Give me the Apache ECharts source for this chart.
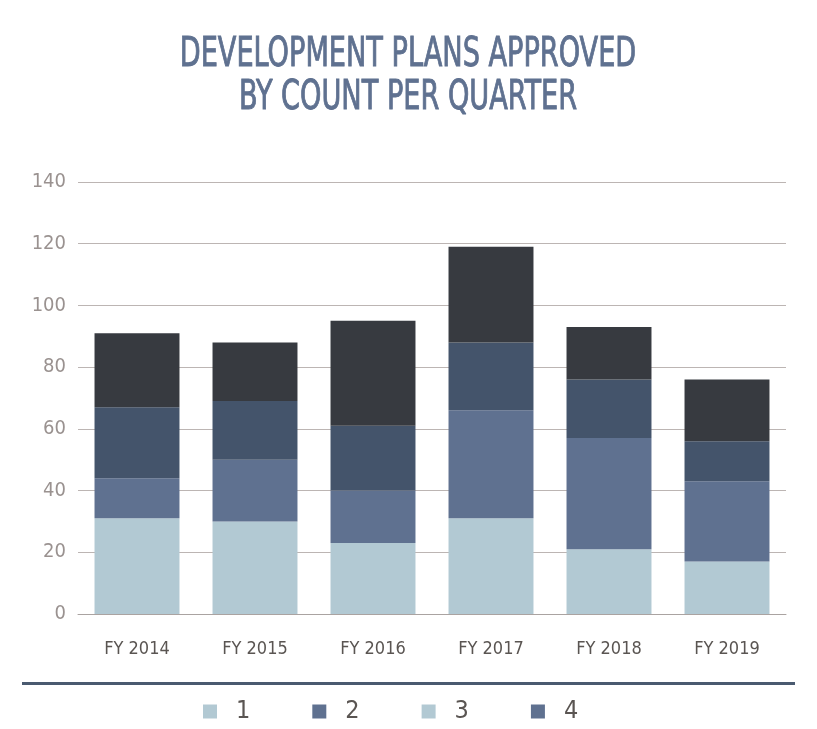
<!DOCTYPE html>
<html><head><meta charset="utf-8">
<script src="https://cdn.jsdelivr.net/npm/echarts@6/dist/echarts.min.js"></script>
<style>html,body{margin:0;padding:0;background:#fff}#c{width:817px;height:729px}</style>
</head><body><div id="c"></div>
<script>
const categories = ['FY 2014','FY 2015','FY 2016','FY 2017','FY 2018','FY 2019'];
const q1 = [31, 30, 23, 31, 21, 17];
const q2 = [13, 20, 17, 35, 36, 26];
const q3 = [23, 19, 21, 22, 19, 13];
const q4 = [24, 19, 34, 31, 17, 20];
const seriesNames = ['1','2','3','4'];
const yTicks = {min:0, max:140, interval:20};
const titleLines = ['DEVELOPMENT PLANS APPROVED','BY COUNT PER QUARTER'];

const FONT = '"DejaVu Sans Condensed","DejaVu Sans",sans-serif';
const barColors = ['#b2c9d3','#5f7190','#44546b','#373a40'];
const legendColors = ['#b2c9d3','#5f7190','#b2c9d3','#5f7190'];
const values = [q1,q2,q3,q4];

const chart = echarts.init(document.getElementById('c'));
const titleStyle = (t)=>({text:t, font:'40px '+FONT, fill:'#5f7190', stroke:'#5f7190', lineWidth:0.9, align:'center', verticalAlign:'top'});
chart.setOption({
  animation:false,
  graphic:[
    {type:'text', x:408, y:36, scaleX:0.755, style:titleStyle(titleLines[0])},
    {type:'text', x:408, y:79, scaleX:0.755, style:titleStyle(titleLines[1])},
    {type:'rect', shape:{x:22, y:682, width:773, height:3}, style:{fill:'#4a5a70'}}
  ],
  grid:{left:78, right:31, top:182, bottom:115},
  legend:{
    top:694, left:198, itemWidth:14, itemHeight:14, itemGap:62, icon:'rect',
    textStyle:{fontFamily:FONT, fontSize:25, color:'#5a5552', padding:[0,0,0,14]},
    data: seriesNames.map((n,i)=>({name:n, itemStyle:{color:legendColors[i]}}))
  },
  xAxis:{type:'category', data:categories,
    axisLine:{show:true, lineStyle:{color:'#aaa3a1', width:1}}, axisTick:{show:false},
    axisLabel:{fontFamily:FONT, fontSize:18, color:'#5a5552', margin:26}},
  yAxis:{type:'value', min:yTicks.min, max:yTicks.max, interval:yTicks.interval,
    axisLine:{show:false}, axisTick:{show:false},
    splitLine:{lineStyle:{color:'#bcb5b3', width:1}},
    axisLabel:{fontFamily:FONT, fontSize:20, color:'#9a9290', margin:12}},
  series: seriesNames.map((n,i)=>({
    name:n, type:'bar', stack:'total', data:values[i], barCategoryGap:'28%',
    itemStyle:{color:barColors[i]}
  }))
});
</script></body></html>
